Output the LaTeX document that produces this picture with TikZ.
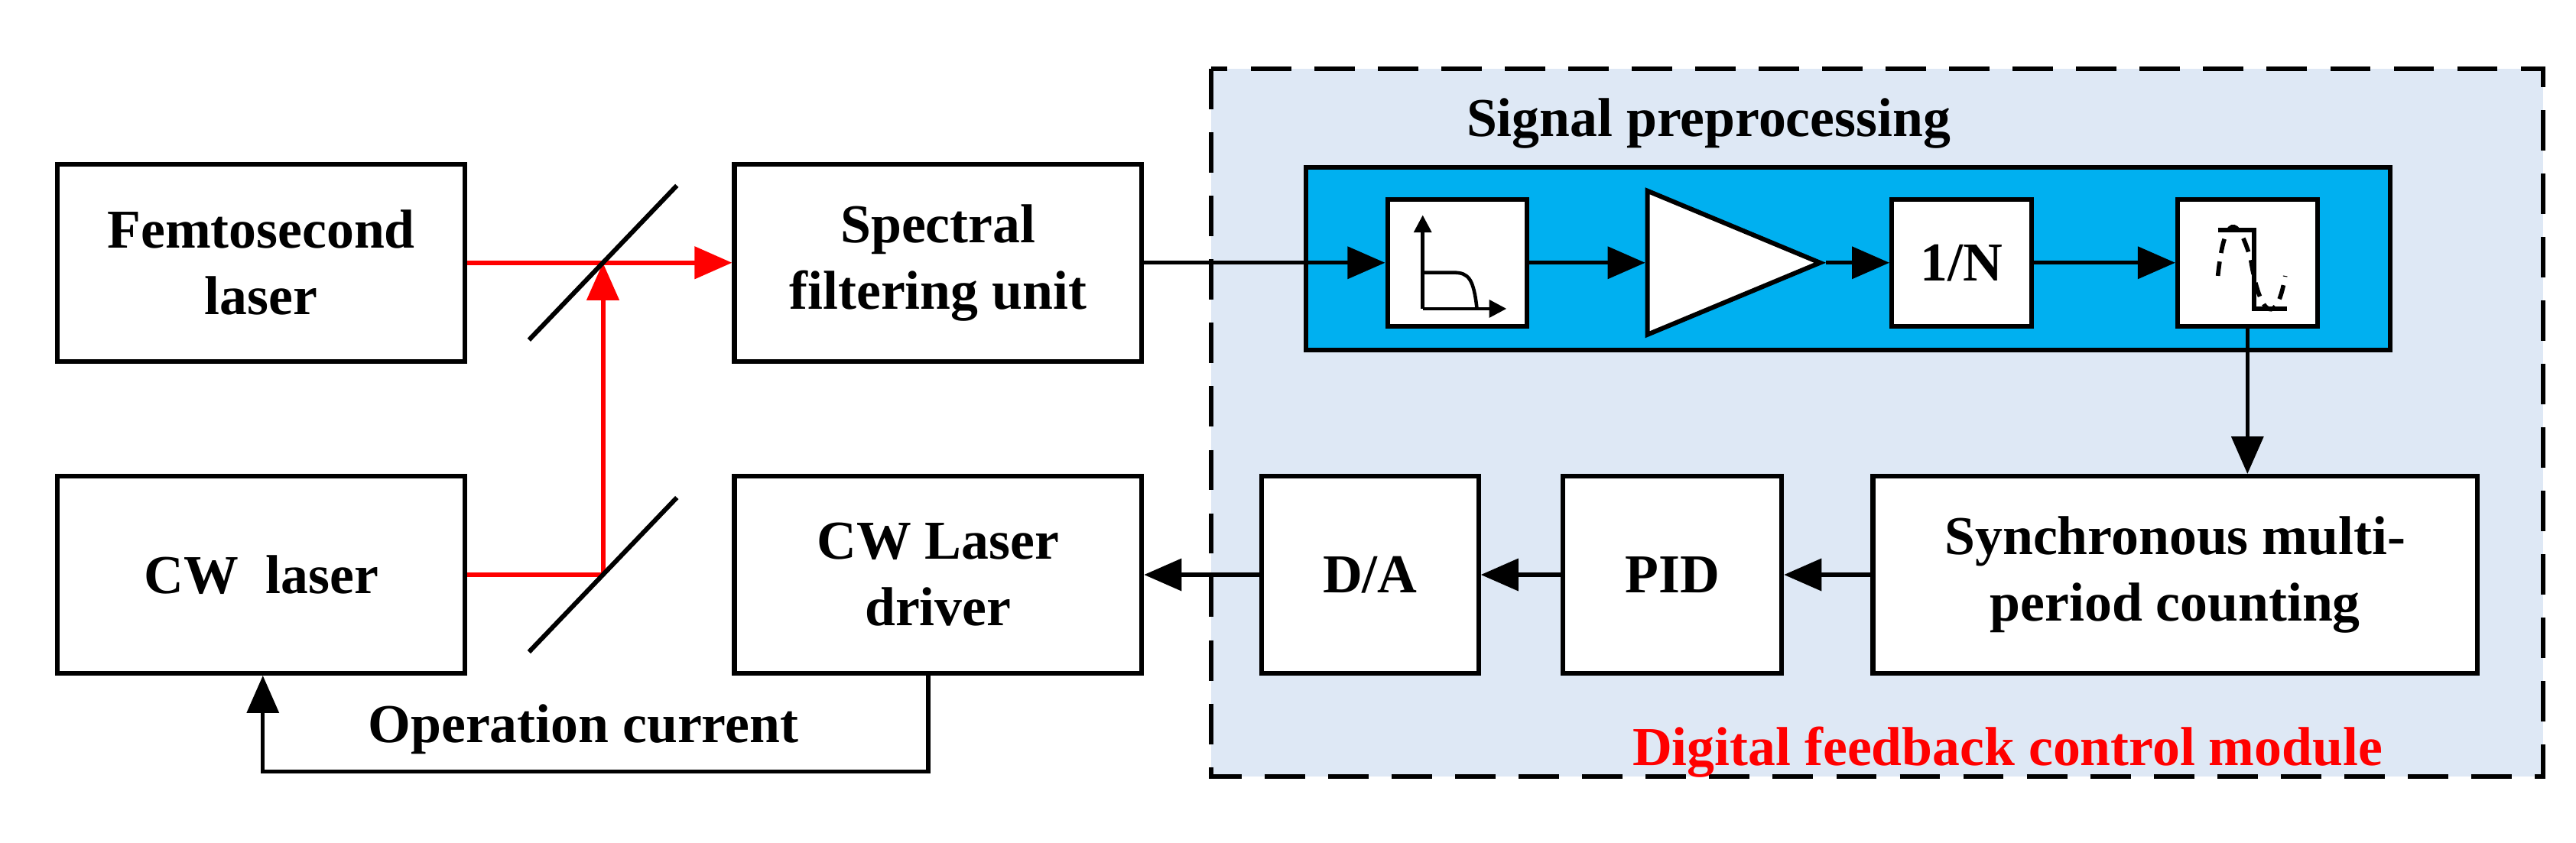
\documentclass[tikz,border=0pt]{standalone}
\usepackage{fontspec}
\setmainfont{Liberation Serif}
\usetikzlibrary{arrows.meta,shapes.geometric}
\definecolor{lblue}{RGB}{222,232,245}
\definecolor{cyanb}{RGB}{0,176,240}
\definecolor{lred}{RGB}{255,0,0}
\begin{document}
\begin{tikzpicture}[x=0.02cm,y=-0.02cm,
  box/.style={draw,line width=1.6pt,fill=white,align=center,font=\fontsize{19}{23}\selectfont\bfseries,inner sep=0pt},
  sbox/.style={draw,line width=1.6pt,fill=white,minimum width=1.7cm,minimum height=1.55cm,inner sep=0pt,font=\fontsize{19}{23}\selectfont\bfseries},
  arr/.style={line width=1.4pt,-{Triangle[length=13pt,width=11pt]}},
  rarr/.style={line width=1.6pt,draw=lred,-{Triangle[length=13pt,width=11pt,fill=lred]}}]
\useasboundingbox (0,0) rectangle (1568,513);
% dashed region
\draw[line width=1.6pt,dash pattern=on 14pt off 8pt,fill=lblue] (737,42) rectangle (1548,473);
\node[font=\fontsize{19}{23}\selectfont\bfseries] (sp) at (1040,75) {Signal preprocessing};
\node[font=\fontsize{19}{23}\selectfont\bfseries,text=lred] (dfc) at (1222,458) {Digital feedback control module};
\draw[line width=1.6pt,fill=cyanb] (795,102) rectangle (1455,213);
% left boxes
\node[box,minimum width=4.96cm,minimum height=2.4cm] (fem) at (159,160) {Femtosecond\\laser};
\node[box,minimum width=4.96cm,minimum height=2.4cm] (cw) at (159,350) {CW\ \ laser};
\node[box,minimum width=4.96cm,minimum height=2.4cm] (spec) at (571,160) {Spectral\\filtering unit};
\node[box,minimum width=4.96cm,minimum height=2.4cm] (drv) at (571,350) {CW Laser\\driver};
\node[box,minimum width=2.64cm,minimum height=2.4cm] (da) at (834,350) {D/A};
\node[box,minimum width=2.66cm,minimum height=2.4cm] (pid) at (1018,350) {PID};
\node[box,minimum width=7.36cm,minimum height=2.4cm] (sync) at (1324,350) {Synchronous multi-\\period counting};
% preprocessing chain
\node[sbox] (lpf) at (887,160) {};
\node[draw,line width=1.6pt,fill=white,isosceles triangle,isosceles triangle stretches,minimum width=1.75cm,minimum height=2.1cm,inner sep=0pt] (amp) at (1032,160) {};
\node[sbox] (div) at (1194,160) {1/N};
\node[sbox] (sig) at (1368,160) {};
% lpf icon
\draw[line width=1.2pt,-{Triangle[length=6pt,width=6pt]}] (866,188) -- (866,131);
\draw[line width=1.2pt,-{Triangle[length=6pt,width=6pt]}] (866,188) -- (917,188);
\draw[line width=1.2pt] (866,166) -- (885,166) .. controls (894,166) and (897,170) .. (899,188);
% signal icon
\draw[line width=1.5pt] (1350,140) -- (1372,140) -- (1372,188) -- (1392,188);
\draw[line width=1.5pt,dash pattern=on 5pt off 3pt] (1350,168) .. controls (1354,130) and (1362,130) .. (1370,158) .. controls (1376,195) and (1386,198) .. (1391,168);
% connectors
\draw[rarr] (fem) -- (spec);
\coordinate (m2) at (367,350);
\coordinate (m1) at (367,160);
\draw[line width=1.6pt,lred] (cw.east |- m2) -- (m2);
\draw[rarr] (m2) -- (m1);
\draw[line width=1.6pt] (322,207) -- (412,113);
\draw[line width=1.6pt] (322,397) -- (412,303);
\coordinate (ein) at (795,160);
\draw[line width=1.4pt] (spec.east) -- (ein);
\draw[arr] (ein) -- (lpf);
\draw[arr] (lpf) -- (amp);
\draw[arr] (amp) -- (div);
\draw[arr] (div) -- (sig);
\draw[arr] (sig.south) -- (sig.south |- sync.north);
\draw[arr] (sync) -- (pid);
\draw[arr] (pid) -- (da);
\draw[arr] (da) -- (drv);
\coordinate (c1) at (565,470);
\coordinate (c2) at (160,470);
\draw[arr] (drv.south -| c1) -- (c1) -- (c2) -- (cw.south -| c2);
\node[font=\fontsize{19}{23}\selectfont\bfseries] (op) at (355,444) {Operation current};
\end{tikzpicture}
\end{document}
